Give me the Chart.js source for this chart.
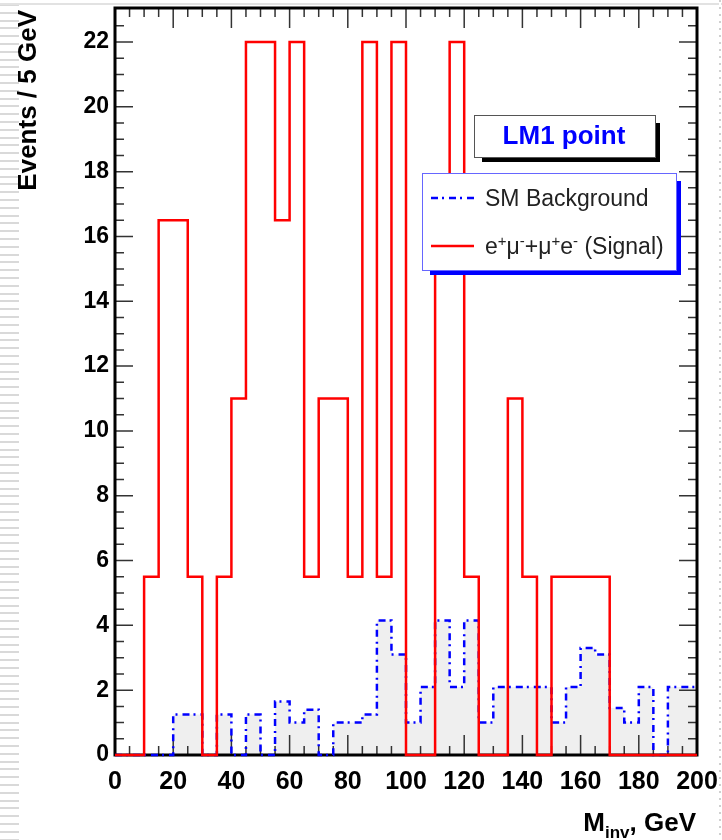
<!DOCTYPE html>
<html>
<head>
<meta charset="utf-8">
<title>LM1 point - M_inv</title>
<script src="https://cdn.jsdelivr.net/npm/chart.js@4.4.1/dist/chart.umd.min.js"></script>
<style>
    html, body { margin: 0; padding: 0; background: #fff; }
    body { width: 722px; height: 840px; position: relative; overflow: hidden; font-family: "Liberation Sans", Arial, sans-serif; }
    #strip { position: absolute; left: 0; top: 0; width: 19px; height: 840px;
        background: repeating-linear-gradient(to bottom, #fff 0px, #fff 4px, #d9d9d9 4px, #d9d9d9 6px, #fff 6px, #fff 7.8px); }
    #topline { position: absolute; left: 0; top: 3px; width: 722px; height: 2px; background: #e2e2e2; }
    #rightline { position: absolute; left: 719px; top: 0; width: 2px; height: 840px;
        background: repeating-linear-gradient(to bottom, #d0d0d0 0px, #d0d0d0 2px, #fff 2px, #fff 7px); }
    #chart { position: absolute; left: 0; top: 0; }
</style>
</head>
<body>
<div id="strip"></div>
<div id="topline"></div>
<div id="rightline"></div>
<canvas id="chart" width="722" height="840"></canvas>
<script>
// 5 GeV bins, 0..200 GeV
const binEdges = [0, 5, 10, 15, 20, 25, 30, 35, 40, 45, 50, 55, 60, 65, 70, 75, 80, 85, 90, 95,
    100, 105, 110, 115, 120, 125, 130, 135, 140, 145, 150, 155, 160, 165, 170, 175, 180, 185, 190, 195, 200];

// e+mu- + mu+e- (Signal), events per bin
const signalCounts = [0, 0, 5.5, 16.5, 16.5, 5.5, 0, 5.5, 11, 22,
    22, 16.5, 22, 5.5, 11, 11, 5.5, 22, 5.5, 22,
    0, 0, 16.5, 22, 5.5, 0, 0, 11, 5.5, 0,
    5.5, 5.5, 5.5, 5.5, 0, 0, 0, 0, 0, 0];

// SM Background, events per bin
const backgroundCounts = [0, 0, 0, 0, 1.25, 1.25, 0, 1.25, 0, 1.25,
    0, 1.65, 1.0, 1.4, 0, 1.0, 1.0, 1.25, 4.15, 3.1,
    1.0, 2.1, 4.15, 2.1, 4.15, 1.0, 2.1, 2.1, 2.1, 2.1,
    1.0, 2.1, 3.3, 3.1, 1.45, 1.0, 2.1, 0, 2.1, 2.1];

const xTickLabels = [0, 20, 40, 60, 80, 100, 120, 140, 160, 180, 200];
const yTickLabels = [0, 2, 4, 6, 8, 10, 12, 14, 16, 18, 20, 22];

const FONT = '"Liberation Sans", Arial, Helvetica, sans-serif';
const BG_DASH = [7, 4, 2, 5];

// histogram outline as step points (value holds until next edge)
function histPoints(counts) {
    const pts = counts.map((v, i) => ({ x: binEdges[i], y: v }));
    pts.push({ x: binEdges[counts.length], y: counts[counts.length - 1] });
    return pts;
}

// frame with inward ticks on all four sides (ROOT style)
function drawFrame(chart) {
    const ctx = chart.ctx;
    const a = chart.chartArea;
    const xs = chart.scales.x, ys = chart.scales.y;
    ctx.save();
    ctx.strokeStyle = '#333';
    ctx.lineWidth = 1.5;
    ctx.beginPath();
    for (let v = 5; v < 200; v += 5) {
        const px = xs.getPixelForValue(v);
        const len = v % 20 === 0 ? 20 : 9;
        ctx.moveTo(px, a.bottom); ctx.lineTo(px, a.bottom - len);
        ctx.moveTo(px, a.top); ctx.lineTo(px, a.top + len);
    }
    for (let v = 0.5; v < 23; v += 0.5) {
        const py = ys.getPixelForValue(v);
        const len = v % 2 === 0 ? 18 : 9;
        ctx.moveTo(a.left, py); ctx.lineTo(a.left + len, py);
        ctx.moveTo(a.right, py); ctx.lineTo(a.right - len, py);
    }
    ctx.stroke();
    ctx.strokeStyle = '#000';
    ctx.lineWidth = 3;
    ctx.strokeRect(a.left, a.top, a.right - a.left, a.bottom - a.top);
    ctx.restore();
}

function drawBox(ctx, x, y, w, h, shadow, border) {
    ctx.fillStyle = shadow;
    ctx.fillRect(x + 8, y + 8, w - 3, h - 3);
    ctx.fillStyle = '#fff';
    ctx.fillRect(x, y, w, h);
    ctx.strokeStyle = border;
    ctx.lineWidth = 1;
    ctx.strokeRect(x + 0.5, y + 0.5, w, h);
}

function drawDecor(chart) {
    const ctx = chart.ctx;
    ctx.save();

    // LM1 point label
    drawBox(ctx, 474, 115, 181, 42, '#000', '#555');
    ctx.fillStyle = '#0000ff';
    ctx.font = 'bold 26px ' + FONT;
    ctx.textAlign = 'center';
    ctx.textBaseline = 'middle';
    ctx.fillText('LM1 point', 564, 137);

    // legend
    drawBox(ctx, 422, 173, 254, 97, '#0000ff', '#6666ff');
    ctx.lineWidth = 2.5;
    ctx.strokeStyle = '#0000ff';
    ctx.setLineDash(BG_DASH);
    ctx.beginPath(); ctx.moveTo(431, 198); ctx.lineTo(474, 198); ctx.stroke();
    ctx.setLineDash([]);
    ctx.strokeStyle = '#ff0000';
    ctx.beginPath(); ctx.moveTo(431, 246); ctx.lineTo(474, 246); ctx.stroke();

    ctx.fillStyle = '#222';
    ctx.textAlign = 'left';
    ctx.textBaseline = 'alphabetic';
    ctx.font = '23px ' + FONT;
    ctx.fillText('SM Background', 485, 206);

    // e+mu- + mu+e- (Signal) with superscripts
    const parts = [['e', 0], ['+', 1], ['\u03bc', 0], ['-', 1], ['+', 0], ['\u03bc', 0], ['+', 1], ['e', 0], ['-', 1], [' (Signal)', 0]];
    let tx = 485;
    parts.forEach(([s, sup]) => {
        ctx.font = (sup ? '15px ' : '23px ') + FONT;
        ctx.fillText(s, tx, sup ? 246 : 254);
        tx += ctx.measureText(s).width;
    });

    // axis titles
    ctx.fillStyle = '#000';
    ctx.font = 'bold 26px ' + FONT;
    ctx.save();
    ctx.translate(29, 10);
    ctx.rotate(-Math.PI / 2);
    ctx.textAlign = 'right';
    ctx.textBaseline = 'middle';
    ctx.fillText('Events / 5 GeV', 0, 0);
    ctx.restore();

    const bigFont = 'bold 26px ' + FONT, subFont = 'bold 17px ' + FONT;
    ctx.font = bigFont; const wM = ctx.measureText('M').width; const wG = ctx.measureText(', GeV').width;
    ctx.font = subFont; const wS = ctx.measureText('inv').width;
    let x0 = 696 - (wM + wS + wG);
    ctx.textAlign = 'left';
    ctx.font = bigFont; ctx.fillText('M', x0, 831);
    ctx.font = subFont; ctx.fillText('inv', x0 + wM, 838);
    ctx.font = bigFont; ctx.fillText(', GeV', x0 + wM + wS, 831);

    ctx.restore();
}

const rootStyle = {
    id: 'rootStyle',
    afterDatasetDraw(chart, args) {
        // frame goes over the grey fill but under the outlines
        if (args.index === 0) drawFrame(chart);
    },
    afterDatasetsDraw(chart) {
        drawDecor(chart);
    }
};

const ctx = document.getElementById('chart').getContext('2d');
const chart = new Chart(ctx, {
    type: 'line',
    data: {
        datasets: [{
            label: 'SM Background fill',
            data: histPoints(backgroundCounts),
            stepped: true,
            borderWidth: 0,
            borderColor: 'rgba(0,0,0,0)',
            backgroundColor: '#efefef',
            fill: 'origin',
            pointRadius: 0,
            order: 3
        }, {
            label: 'SM Background',
            data: histPoints(backgroundCounts),
            stepped: true,
            borderWidth: 2.5,
            borderColor: '#0000ff',
            borderDash: BG_DASH,
            fill: false,
            pointRadius: 0,
            clip: 4,
            order: 2
        }, {
            label: 'e+mu- + mu+e- (Signal)',
            data: histPoints(signalCounts),
            stepped: true,
            borderWidth: 2.5,
            borderColor: '#ff0000',
            fill: false,
            pointRadius: 0,
            clip: 4,
            order: 1
        }]
    },
    options: {
        responsive: false,
        devicePixelRatio: 1,
        animation: false,
        layout: { padding: { top: 8, right: 25, left: 0, bottom: 0 } },
        scales: {
            x: {
                type: 'linear',
                min: 0, max: 200,
                afterFit: s => { s.height = 85; s.paddingLeft = 0; s.paddingRight = 0; },
                afterBuildTicks: s => { s.ticks = xTickLabels.map(v => ({ value: v })); },
                grid: { display: false, drawTicks: false },
                border: { display: false },
                ticks: { color: '#000', font: { family: FONT, size: 25, weight: 'bold' }, padding: 12, maxRotation: 0 }
            },
            y: {
                type: 'linear',
                min: 0, max: 23.05,
                afterFit: s => { s.width = 115; s.paddingTop = 0; s.paddingBottom = 0; },
                afterBuildTicks: s => { s.ticks = yTickLabels.map(v => ({ value: v })); },
                grid: { display: false, drawTicks: false },
                border: { display: false },
                ticks: { color: '#000', font: { family: FONT, size: 23, weight: 'bold' }, padding: 6 }
            }
        },
        plugins: {
            legend: { display: false },
            tooltip: { enabled: false },
            title: { display: false }
        }
    },
    plugins: [rootStyle]
});
</script>
</body>
</html>
